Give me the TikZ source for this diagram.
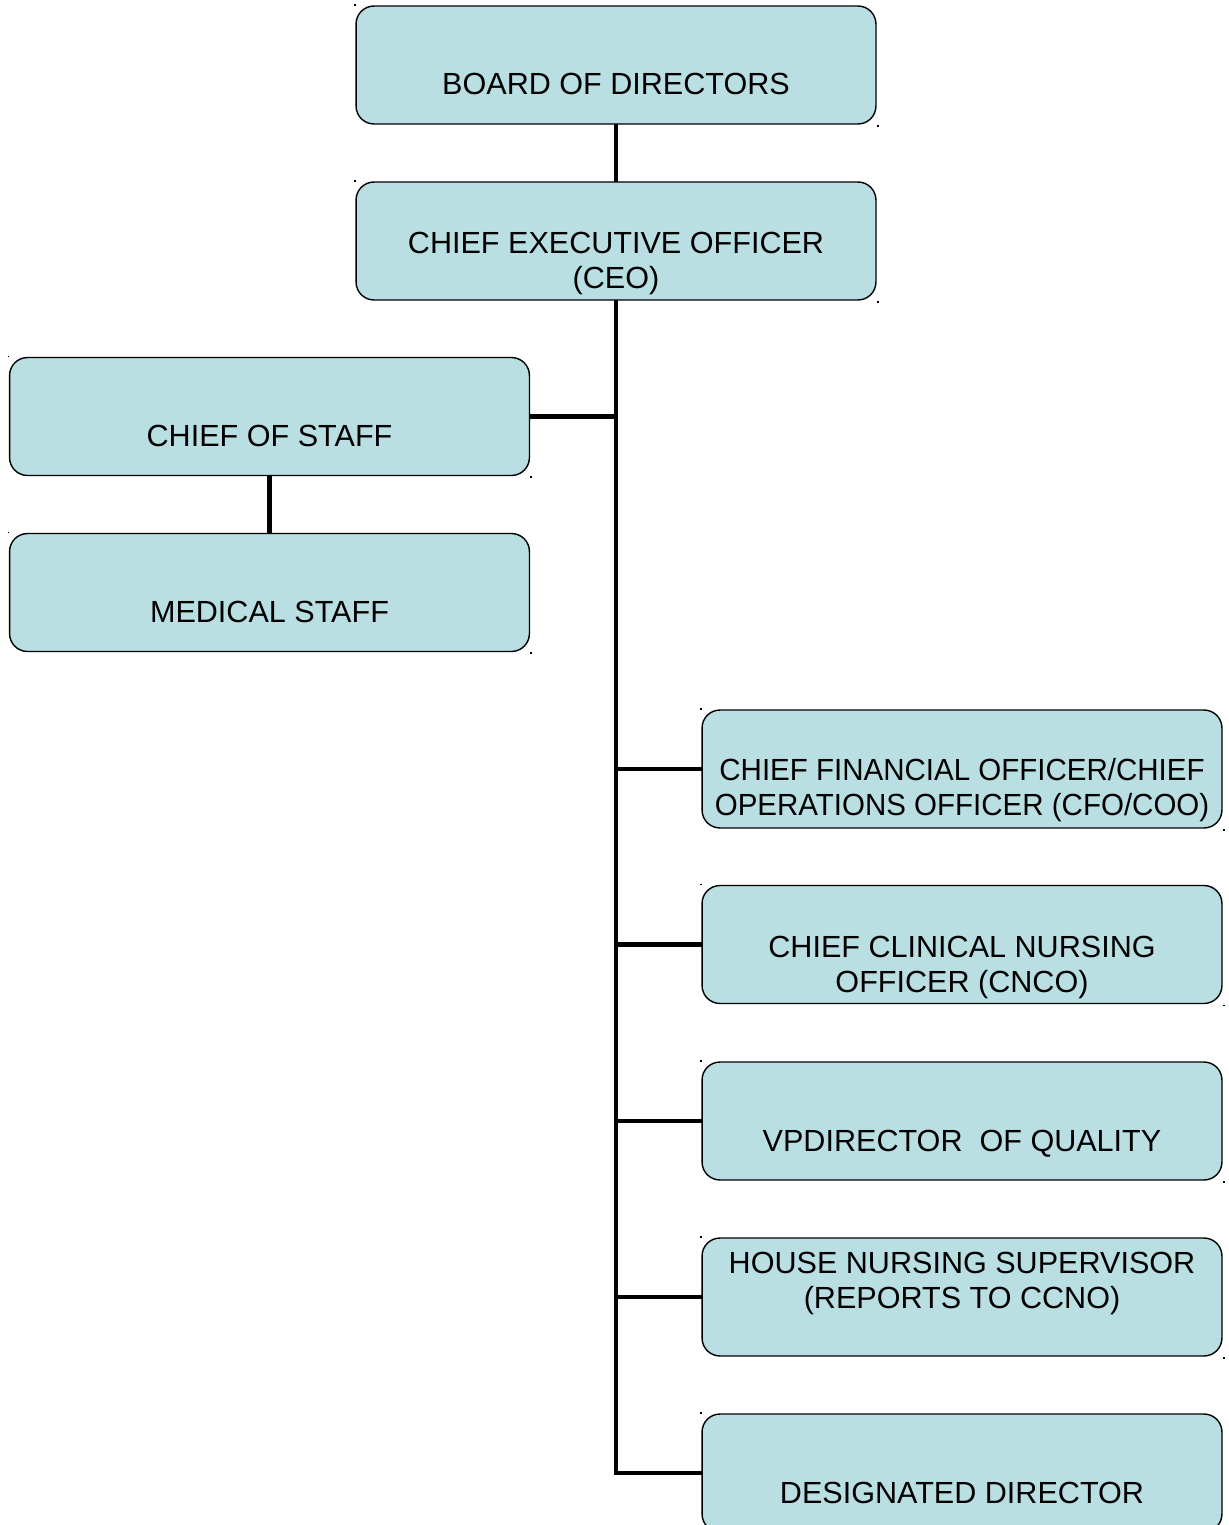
\documentclass[tikz,border=0pt]{standalone}
\usepackage{fontspec}
\usepackage{graphicx}
\setmainfont{Liberation Sans}
\usetikzlibrary{calc}
\definecolor{boxfill}{RGB}{185,223,227}
\begin{document}
\begin{tikzpicture}[x=0.02cm,y=-0.02cm,
  box/.style={draw=black, line width=0.8pt, fill=boxfill, rounded corners=0.36cm,
    minimum width=10.4cm, minimum height=2.36cm, inner sep=0pt, outer sep=0pt},
  lbl/.style={font=\fontsize{17.4}{19.6}\selectfont, anchor=base, align=center, inner sep=0pt},
  link/.style={line width=2.8pt},
  tick/.style={fill=black}]
\useasboundingbox (0,0) rectangle (1228,1525);
\clip (0,0) rectangle (1228,1525);

% boxes
\node[box] (board) at (616,65) {};
\node[box] (ceo)   at (616,241) {};
\node[box] (cos)   at (269.5,416.5) {};
\node[box] (med)   at (269.5,592.5) {};
\node[box] (cfo)   at (962,769) {};
\node[box] (cnco)  at (962,944.5) {};
\node[box] (vpq)   at (962,1121) {};
\node[box] (hns)   at (962,1297) {};
\node[box] (dd)    at (962,1473) {};

% small corner marks
\foreach \b in {board,ceo,cos,med,cfo,cnco,vpq,hns,dd}{
  \fill[tick] ($(\b.north west)+(-2,-2)$) rectangle ++(1.6,1.6);
  \fill[tick] ($(\b.south east)+(1,1)$) rectangle ++(1.6,1.6);
}

% labels (base anchor sits on the last line)
\node[lbl] (tboard) at (616,94) {BOARD OF DIRECTORS};
\node[lbl] (tceo)   at (616,288) {CHIEF EXECUTIVE OFFICER\\(CEO)};
\node[lbl] (tcos)   at (269.5,446) {CHIEF OF STAFF};
\node[lbl] (tmed)   at (269.5,622) {MEDICAL STAFF};
\node[lbl] (tcfo)   at (962,815) {\scalebox{0.965}[1]{CHIEF FINANCIAL OFFICER/CHIEF}\\\scalebox{0.965}[1]{OPERATIONS OFFICER (CFO/COO)}};
\node[lbl] (tcnco)  at (962,992) {CHIEF CLINICAL NURSING\\OFFICER (CNCO)};
\node[lbl] (tvpq)   at (962,1151) {VPDIRECTOR\ \ OF QUALITY};
\node[lbl] (thns)   at (962,1308) {HOUSE NURSING SUPERVISOR\\(REPORTS TO CCNO)};
\node[lbl] (tdd)    at (962,1503) {DESIGNATED DIRECTOR};

% connectors
\coordinate (trunkend) at (ceo.south |- dd.west);
\draw[link] (board.south) -- (ceo.north);
\draw[link] (cos.south) -- (med.north);
\draw[link] (cos.east) -- (cos.east -| ceo.south);
\draw[link] (ceo.south) -- (trunkend) -- (dd.west);
\foreach \b in {cfo,cnco,vpq,hns}{
  \draw[link] (ceo.south |- \b.west) -- (\b.west);
}
\end{tikzpicture}
\end{document}
